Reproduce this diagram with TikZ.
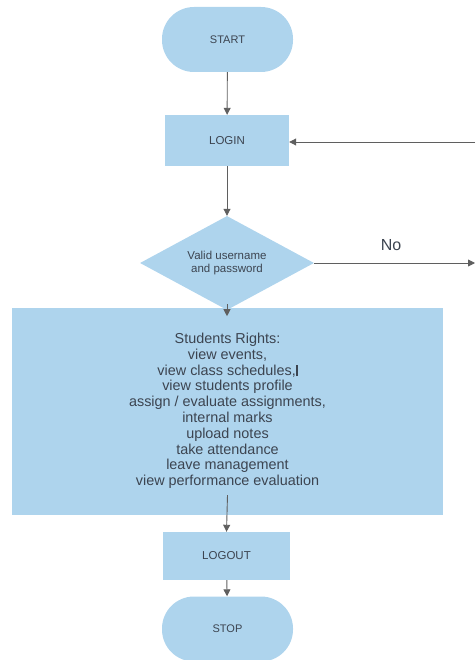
\documentclass[tikz,border=0pt]{standalone}
\usepackage{fontspec}
\setmainfont{Liberation Sans}
\usetikzlibrary{shapes.geometric,arrows.meta}
\definecolor{boxblue}{RGB}{174,212,237}
\definecolor{txtgray}{RGB}{60,68,80}
\definecolor{arrgray}{RGB}{95,95,95}
\begin{document}
\begin{tikzpicture}[x=1pt,y=-1pt,
  shape box/.style={fill=boxblue, draw=none, text=txtgray, inner sep=0pt},
  termbox/.style={shape box, rectangle, rounded corners=32pt, minimum width=131pt, minimum height=65pt, font=\fontsize{11}{13}\selectfont},
  procbox/.style={shape box, rectangle, font=\fontsize{11.5}{13}\selectfont},
  decbox/.style={shape box, diamond, aspect=1.9, minimum width=174pt, minimum height=94pt, align=center, font=\fontsize{11.5}{13.5}\selectfont},
  conn/.style={draw=arrgray, line width=0.9pt, -{Triangle[length=7pt,width=7pt]}}]
\useasboundingbox (0,0) rectangle (475,660);
% nodes
\node[termbox] (start) at (227.5,39.5) {START};
\node[procbox, minimum width=124pt, minimum height=51pt] (login) at (227,140.5) {LOGIN};
\node[decbox] (valid) at (227,263) {Valid username\\and password};
\node[shape box, rectangle, minimum width=431pt, minimum height=207pt,
      font=\fontsize{14.4}{15.8}\selectfont] (rights) at (227.5,411.5)
  {\raisebox{6pt}{\begin{tabular}{@{}c@{}}Students Rights:\\view events,\\view class schedules,\rule[-1pt]{1.6pt}{11pt}\\view students profile\\assign / evaluate assignments,\\internal marks\\upload notes\\take attendance\\leave management\\view performance evaluation\end{tabular}}};
\node[procbox, minimum width=127pt, minimum height=48pt] (logout) at (226.5,556) {LOGOUT};
\node[termbox] (stop) at (227.5,629) {STOP};
\node[text=txtgray, font=\fontsize{16}{18}\selectfont] (nolabel) at (391,245) {No};
\coordinate (noend) at (475,263);
\coordinate (backstart) at (475,142);
% connectors
\draw[conn] (start) -- (login);
\draw[conn] (login) -- (valid);
\draw[conn] (valid.east) -- (noend);
\draw[conn] (backstart) -- (backstart -| login.east);
\draw[conn] (valid.south) ++(0,-6) -- ++(0,12);
\draw[conn] (rights.south) ++(0,-20) -- (logout.north);
\draw[conn] (logout) -- (stop);
\end{tikzpicture}
\end{document}
